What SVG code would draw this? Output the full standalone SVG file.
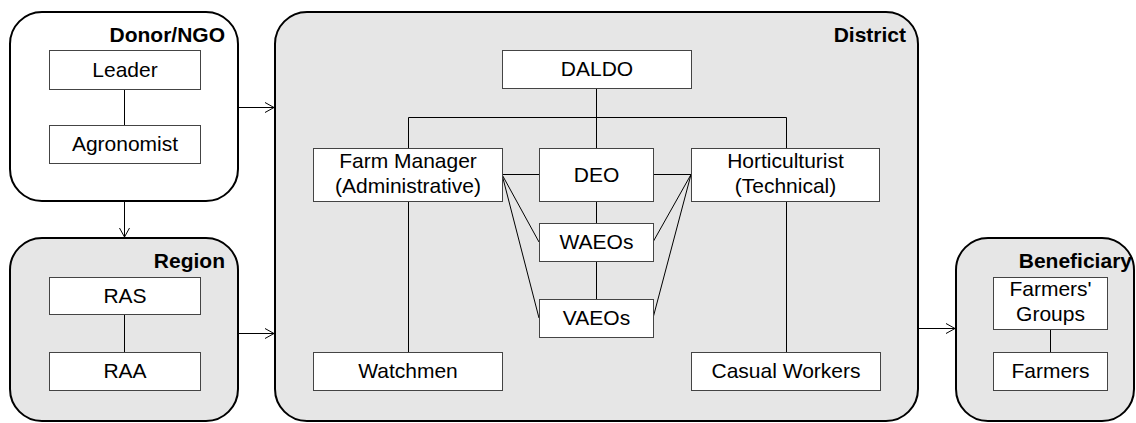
<svg xmlns="http://www.w3.org/2000/svg" width="1136" height="423" viewBox="0 0 1136 423">
<defs>
<marker id="arr" markerUnits="userSpaceOnUse" markerWidth="12" markerHeight="12" refX="10" refY="6" orient="auto">
<path d="M1,1 L10,6 L1,11" fill="none" stroke="#000" stroke-width="1"/>
</marker>
<style>
.cont{fill:#e6e6e6;stroke:#000;stroke-width:2}
.white{fill:#fff}
.box{fill:#fff;stroke:#444;stroke-width:1}
.t{font-family:"Liberation Sans",Arial,sans-serif;font-size:21px;fill:#000;text-anchor:middle}
.h{font-family:"Liberation Sans",Arial,sans-serif;font-size:21px;font-weight:bold;fill:#000;text-anchor:end}
.ln{stroke:#000;stroke-width:1;fill:none}
</style>
</defs>
<g id="donor">
<rect class="cont white" x="10" y="12" width="228" height="189" rx="32" ry="32"/>
<text class="h" x="225" y="42">Donor/NGO</text>
</g>
<g id="region">
<rect class="cont" x="10" y="238" width="228" height="183" rx="32" ry="32"/>
<text class="h" x="225" y="268">Region</text>
</g>
<g id="district">
<rect class="cont" x="275" y="12" width="643" height="409" rx="32" ry="32"/>
<text class="h" x="906" y="42">District</text>
</g>
<g id="beneficiary">
<rect class="cont" x="956" y="238" width="178" height="183" rx="32" ry="32"/>
<text class="h" x="1132" y="268">Beneficiary</text>
</g>
<g id="connectors">
<line class="ln" x1="124.5" y1="90" x2="124.5" y2="125"/>
<line class="ln" x1="124.5" y1="314" x2="124.5" y2="352"/>
<line class="ln" x1="1050.5" y1="329" x2="1050.5" y2="352"/>
<line class="ln" x1="238" y1="107.5" x2="274" y2="107.5" marker-end="url(#arr)"/>
<line class="ln" x1="238" y1="333.5" x2="274" y2="333.5" marker-end="url(#arr)"/>
<line class="ln" x1="124.5" y1="201" x2="124.5" y2="237" marker-end="url(#arr)"/>
<line class="ln" x1="918" y1="328.5" x2="955" y2="328.5" marker-end="url(#arr)"/>
<line class="ln" x1="596.5" y1="88" x2="596.5" y2="148"/>
<polyline class="ln" points="408.5,148 408.5,117.5 786.5,117.5 786.5,148"/>
<line class="ln" x1="502" y1="174.5" x2="539" y2="174.5"/>
<line class="ln" x1="653" y1="174.5" x2="691" y2="174.5"/>
<line class="ln" x1="596.5" y1="201" x2="596.5" y2="223"/>
<line class="ln" x1="596.5" y1="261" x2="596.5" y2="299"/>
<line class="ln" x1="408.5" y1="201" x2="408.5" y2="352"/>
<line class="ln" x1="786.5" y1="201" x2="786.5" y2="352"/>
<line class="ln" x1="502" y1="174.5" x2="539" y2="242"/>
<line class="ln" x1="502" y1="174.5" x2="539" y2="318"/>
<line class="ln" x1="691" y1="174.5" x2="653" y2="242"/>
<line class="ln" x1="691" y1="174.5" x2="653" y2="318"/>
</g>
<g id="leader"><rect class="box" x="49.5" y="50.5" width="151" height="39"/><text class="t" x="125" y="77">Leader</text></g>
<g id="agronomist"><rect class="box" x="49.5" y="125.5" width="151" height="38"/><text class="t" x="125" y="151">Agronomist</text></g>
<g id="ras"><rect class="box" x="49.5" y="277.5" width="151" height="37"/><text class="t" x="125" y="303">RAS</text></g>
<g id="raa"><rect class="box" x="49.5" y="352.5" width="151" height="38"/><text class="t" x="125" y="378">RAA</text></g>
<g id="daldo"><rect class="box" x="502.5" y="50.5" width="189" height="38"/><text class="t" x="597" y="76">DALDO</text></g>
<g id="farm-manager"><rect class="box" x="313.5" y="148.5" width="189" height="53"/><text class="t" x="408" y="168">Farm Manager</text><text class="t" x="408" y="193">(Administrative)</text></g>
<g id="deo"><rect class="box" x="539.5" y="148.5" width="114" height="53"/><text class="t" x="596.5" y="182">DEO</text></g>
<g id="horticulturist"><rect class="box" x="691.5" y="148.5" width="188" height="53"/><text class="t" x="785.5" y="168">Horticulturist</text><text class="t" x="785.5" y="193">(Technical)</text></g>
<g id="waeos"><rect class="box" x="539.5" y="223.5" width="114" height="38"/><text class="t" x="596.5" y="249">WAEOs</text></g>
<g id="vaeos"><rect class="box" x="539.5" y="299.5" width="114" height="38"/><text class="t" x="596.5" y="325">VAEOs</text></g>
<g id="watchmen"><rect class="box" x="313.5" y="352.5" width="189" height="38"/><text class="t" x="408" y="378">Watchmen</text></g>
<g id="casual-workers"><rect class="box" x="691.5" y="352.5" width="189" height="38"/><text class="t" x="786" y="378">Casual Workers</text></g>
<g id="farmers-groups"><rect class="box" x="993.5" y="277.5" width="114" height="52"/><text class="t" x="1050.5" y="296">Farmers'</text><text class="t" x="1050.5" y="321">Groups</text></g>
<g id="farmers"><rect class="box" x="993.5" y="352.5" width="114" height="38"/><text class="t" x="1050.5" y="378">Farmers</text></g>
</svg>
